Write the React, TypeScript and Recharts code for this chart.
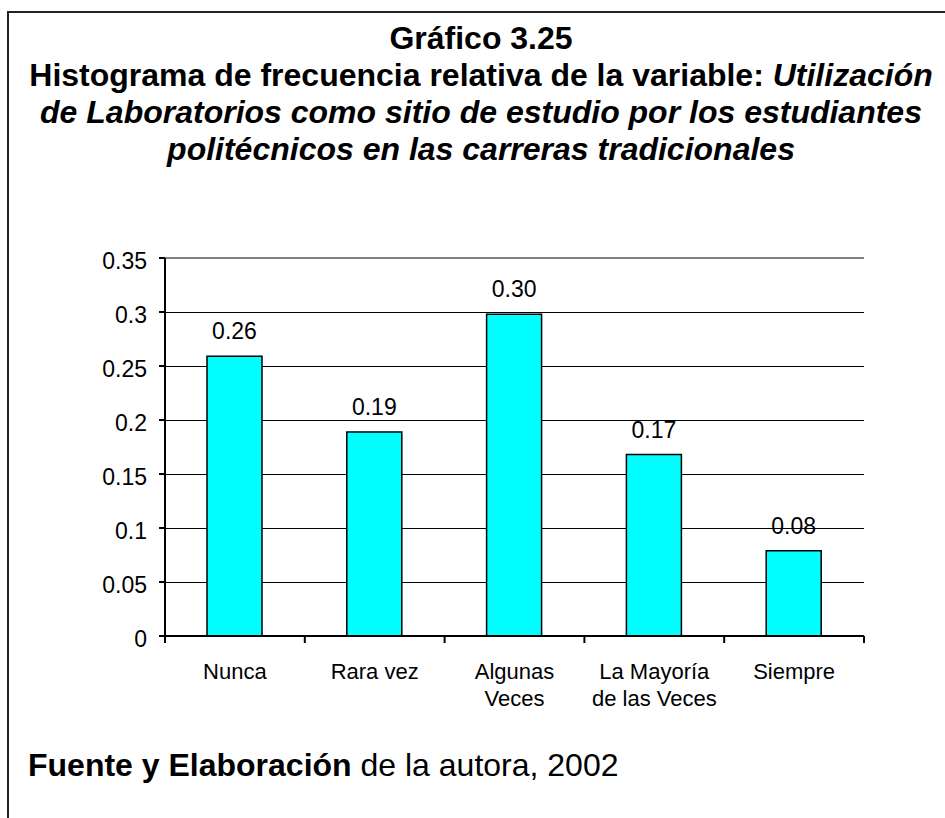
import React from "react";
import {
  BarChart,
  Bar,
  XAxis,
  YAxis,
  CartesianGrid,
  ReferenceLine,
  LabelList,
} from "recharts";

const categories = [
  "Nunca",
  "Rara vez",
  "Algunas Veces",
  "La Mayoría de las Veces",
  "Siempre",
];
// how each category name is broken into lines under the axis
const categoryLines = [
  ["Nunca"],
  ["Rara vez"],
  ["Algunas", "Veces"],
  ["La Mayoría", "de las Veces"],
  ["Siempre"],
];
const frecuenciaRelativa = [0.259, 0.189, 0.298, 0.168, 0.079];
const yTicks = [0, 0.05, 0.1, 0.15, 0.2, 0.25, 0.3, 0.35];

const data = categories.map((categoria, i) => ({
  categoria,
  valor: frecuenciaRelativa[i],
}));

const FONT = '"Liberation Sans", Arial, sans-serif';

function CategoryTick(props: any) {
  const { x, y, payload, index } = props;
  const half = payload?.offset ?? 70;
  const lines = categoryLines[index] ?? [String(payload.value)];
  const isLast = index === categories.length - 1;
  return (
    <g>
      <line x1={x - half} x2={x - half} y1={y} y2={y + 7} stroke="#000" strokeWidth={2} />
      {isLast && (
        <line x1={x + half} x2={x + half} y1={y} y2={y + 7} stroke="#000" strokeWidth={2} />
      )}
      <text x={x} y={y + 43} textAnchor="middle" fontSize={22} fill="#000" fontFamily={FONT}>
        {lines.map((l: string, i: number) => (
          <tspan key={i} x={x} dy={i === 0 ? 0 : 27}>
            {l}
          </tspan>
        ))}
      </text>
    </g>
  );
}

function ValueTick(props: any) {
  const { x, y, payload } = props;
  return (
    <text x={x} y={y + 10.5} textAnchor="end" fontSize={23} fill="#000" fontFamily={FONT}>
      {String(payload.value)}
    </text>
  );
}

export default function App() {
  return (
    <div
      style={{
        position: "absolute",
        left: 0,
        top: 0,
        width: 945,
        height: 818,
        overflow: "hidden",
        background: "#fff",
        fontFamily: FONT,
        color: "#000",
      }}
    >
      <div
        style={{
          position: "absolute",
          left: 7,
          top: 11,
          width: 980,
          height: 840,
          borderTop: "2px solid #222",
          borderLeft: "2px solid #222",
        }}
      />
      <div
        style={{
          position: "absolute",
          left: 20,
          top: 20,
          width: 922,
          textAlign: "center",
          fontSize: 32,
          lineHeight: "37px",
          fontWeight: "bold",
          whiteSpace: "nowrap",
        }}
      >
        <div>Gráfico 3.25</div>
        <div>
          Histograma de frecuencia relativa de la variable: <i>Utilización</i>
        </div>
        <div>
          <i>de Laboratorios como sitio de estudio por los estudiantes</i>
        </div>
        <div>
          <i>politécnicos en las carreras tradicionales</i>
        </div>
      </div>

      <div style={{ position: "absolute", left: 0, top: 0 }}>
        <BarChart
          width={945}
          height={818}
          data={data}
          margin={{ top: 258, right: 81, left: 95, bottom: 102 }}
        >
          <CartesianGrid
            horizontal
            vertical={false}
            stroke="#000"
            strokeWidth={1}
            shapeRendering="crispEdges"
          />
          <XAxis
            dataKey="categoria"
            height={80}
            interval={0}
            tickSize={0}
            tickMargin={0}
            tickLine={false}
            axisLine={{ stroke: "#000", strokeWidth: 2 }}
            tick={<CategoryTick />}
          />
          <YAxis
            width={70}
            domain={[0, 0.35]}
            ticks={yTicks}
            interval={0}
            tickSize={6}
            tickMargin={12}
            tickLine={{ stroke: "#000", strokeWidth: 2 }}
            axisLine={{ stroke: "#000", strokeWidth: 2 }}
            tick={<ValueTick />}
          />
          <YAxis
            yAxisId="borde"
            orientation="right"
            width={0}
            domain={[0, 0.35]}
            tick={false}
            tickLine={false}
            axisLine={{ stroke: "#808080", strokeWidth: 2 }}
          />
          <ReferenceLine y={0.35} stroke="#808080" strokeWidth={2} />
          <Bar
            dataKey="valor"
            fill="#00FFFF"
            stroke="#000"
            strokeWidth={1.5}
            barSize={55}
            isAnimationActive={false}
          >
            <LabelList
              dataKey="valor"
              position="top"
              offset={17}
              fill="#000"
              fontSize={23}
              fontFamily={FONT}
              formatter={(v: any) => Number(v).toFixed(2)}
            />
          </Bar>
        </BarChart>
      </div>

      <div
        style={{
          position: "absolute",
          left: 28,
          top: 747,
          fontSize: 32,
          lineHeight: "37px",
          whiteSpace: "nowrap",
        }}
      >
        <b>Fuente y Elaboración</b> de la autora, 2002
      </div>
    </div>
  );
}
